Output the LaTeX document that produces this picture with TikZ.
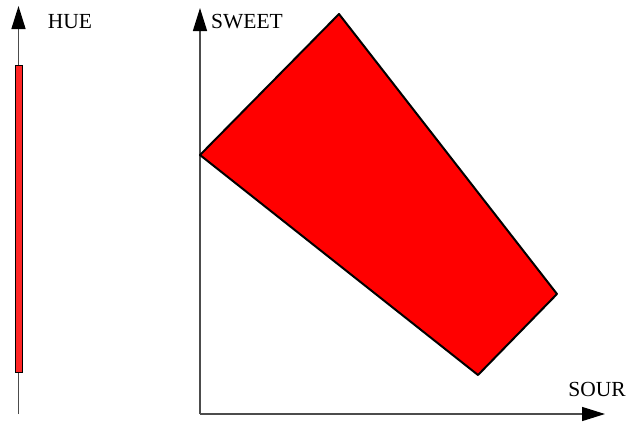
\documentclass[tikz,border=0pt]{standalone}
\usepackage{fontspec}
\setmainfont{Liberation Serif}
\usepackage{xcolor}
\usepackage{tikz}
\usetikzlibrary{arrows.meta, calc, positioning}

\begin{document}
\begin{tikzpicture}[x=1pt, y=-1pt,
    axis/.style={black!70, line width=1.4pt, -{Triangle[length=23pt, width=14pt, black]}},
    lbl/.style={font=\fontsize{21.5}{25}\selectfont, inner sep=0pt}]
\useasboundingbox (0,0) rectangle (627,421);

% hue axis
\coordinate (hbot) at (18.5,414);
\coordinate (htop) at (18.5,6);
\draw[axis] (hbot) -- (htop);
\draw[black, line width=0.8pt, fill=red!85!white] (15,65) rectangle (22,372);
\node[lbl] (hue) at (70,22) {HUE};

% taste plane
\coordinate (origin) at (200,414);
\coordinate (ytop) at (200,8);
\coordinate (xend) at (605,414);
\draw[axis] (origin) -- (ytop);
\draw[axis] (origin) -- (xend);
\node[lbl, anchor=west] (sweet) at (211,22) {SWEET};
\node[lbl] (sour) at (597,389) {SOUR};

% region
\coordinate (p1) at (200,155);
\coordinate (p2) at (339,14);
\coordinate (p3) at (557,294);
\coordinate (p4) at (478,375);
\draw[black, line width=2pt, fill=red, line join=round] (p1) -- (p2) -- (p3) -- (p4) -- cycle;
\end{tikzpicture}
\end{document}
